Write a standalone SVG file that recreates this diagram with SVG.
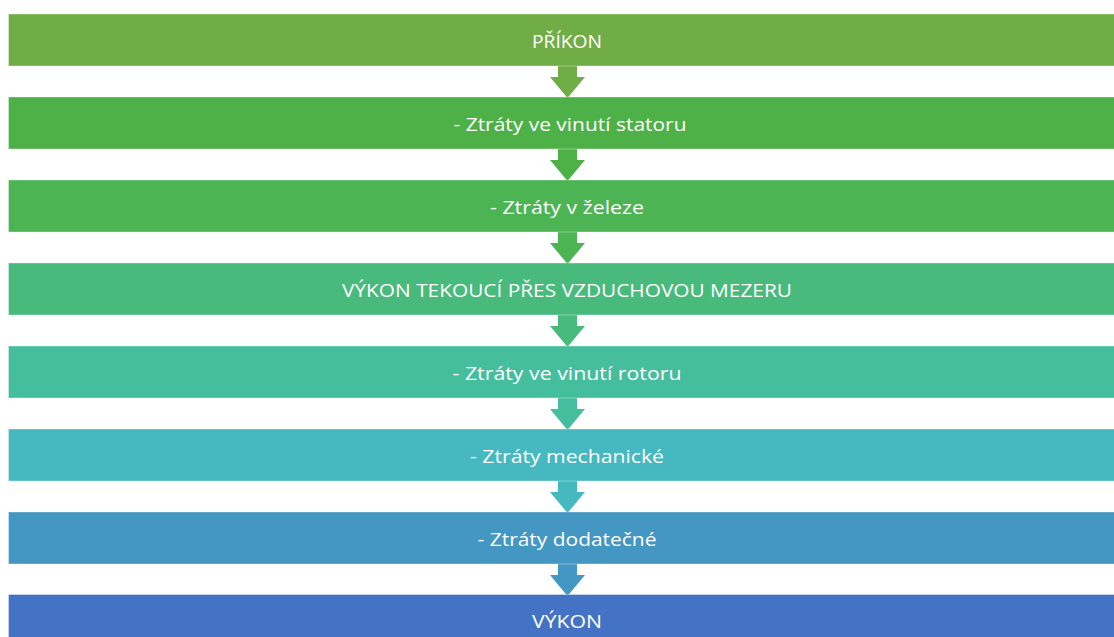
<svg xmlns="http://www.w3.org/2000/svg" width="1114" height="637" viewBox="0 0 1114 637">
<style>
.box{stroke:#ffffff;stroke-opacity:0.35;stroke-width:1}
.lbl{font-family:"Open Sans","Liberation Sans",sans-serif;font-size:19px;fill:#ffffff;text-anchor:middle}
</style>
<rect width="1114" height="637" fill="#ffffff"/>
<g id="connectors">
<polygon fill="#70AD47" points="558,66 577,66 577,77 585,77 567.5,98 550,77 558,77"/>
<polygon fill="#4EB148" points="558,149 577,149 577,160 585,160 567.5,181 550,160 558,160"/>
<polygon fill="#4DB453" points="558,232 577,232 577,243 585,243 567.5,264 550,243 558,243"/>
<polygon fill="#48BA7C" points="558,315 577,315 577,326 585,326 567.5,347 550,326 558,326"/>
<polygon fill="#45BE9E" points="558,398 577,398 577,409 585,409 567.5,430 550,409 558,409"/>
<polygon fill="#45B8C0" points="558,481 577,481 577,492 585,492 567.5,513 550,492 558,492"/>
<polygon fill="#4497C2" points="558,564 577,564 577,575 585,575 567.5,596 550,575 558,575"/>
</g>
<g id="n1"><rect class="box" x="8.5" y="14" width="1120" height="52" fill="#70AD47"/><text class="lbl" x="567" y="47.7" textLength="70" lengthAdjust="spacingAndGlyphs">PŘÍKON</text></g>
<g id="n2"><rect class="box" x="8.5" y="97" width="1120" height="52" fill="#4EB148"/><text class="lbl" x="570" y="130.7" textLength="233" lengthAdjust="spacingAndGlyphs">- Ztráty ve vinutí statoru</text></g>
<g id="n3"><rect class="box" x="8.5" y="180" width="1120" height="52" fill="#4DB453"/><text class="lbl" x="567" y="213.7" textLength="154" lengthAdjust="spacingAndGlyphs">- Ztráty v železe</text></g>
<g id="n4"><rect class="box" x="8.5" y="263" width="1120" height="52" fill="#48BA7C"/><text class="lbl" x="567" y="296.7" textLength="450" lengthAdjust="spacingAndGlyphs">VÝKON TEKOUCÍ PŘES VZDUCHOVOU MEZERU</text></g>
<g id="n5"><rect class="box" x="8.5" y="346" width="1120" height="52" fill="#45BE9E"/><text class="lbl" x="567" y="379.7" textLength="229" lengthAdjust="spacingAndGlyphs">- Ztráty ve vinutí rotoru</text></g>
<g id="n6"><rect class="box" x="8.5" y="429" width="1120" height="52" fill="#45B8C0"/><text class="lbl" x="567" y="462.7" textLength="194" lengthAdjust="spacingAndGlyphs">- Ztráty mechanické</text></g>
<g id="n7"><rect class="box" x="8.5" y="512" width="1120" height="52" fill="#4497C2"/><text class="lbl" x="567" y="545.7" textLength="179" lengthAdjust="spacingAndGlyphs">- Ztráty dodatečné</text></g>
<g id="n8"><rect class="box" x="8.5" y="594.5" width="1120" height="52" fill="#4472C4"/><text class="lbl" x="567" y="628.2" textLength="70" lengthAdjust="spacingAndGlyphs">VÝKON</text></g>
</svg>
